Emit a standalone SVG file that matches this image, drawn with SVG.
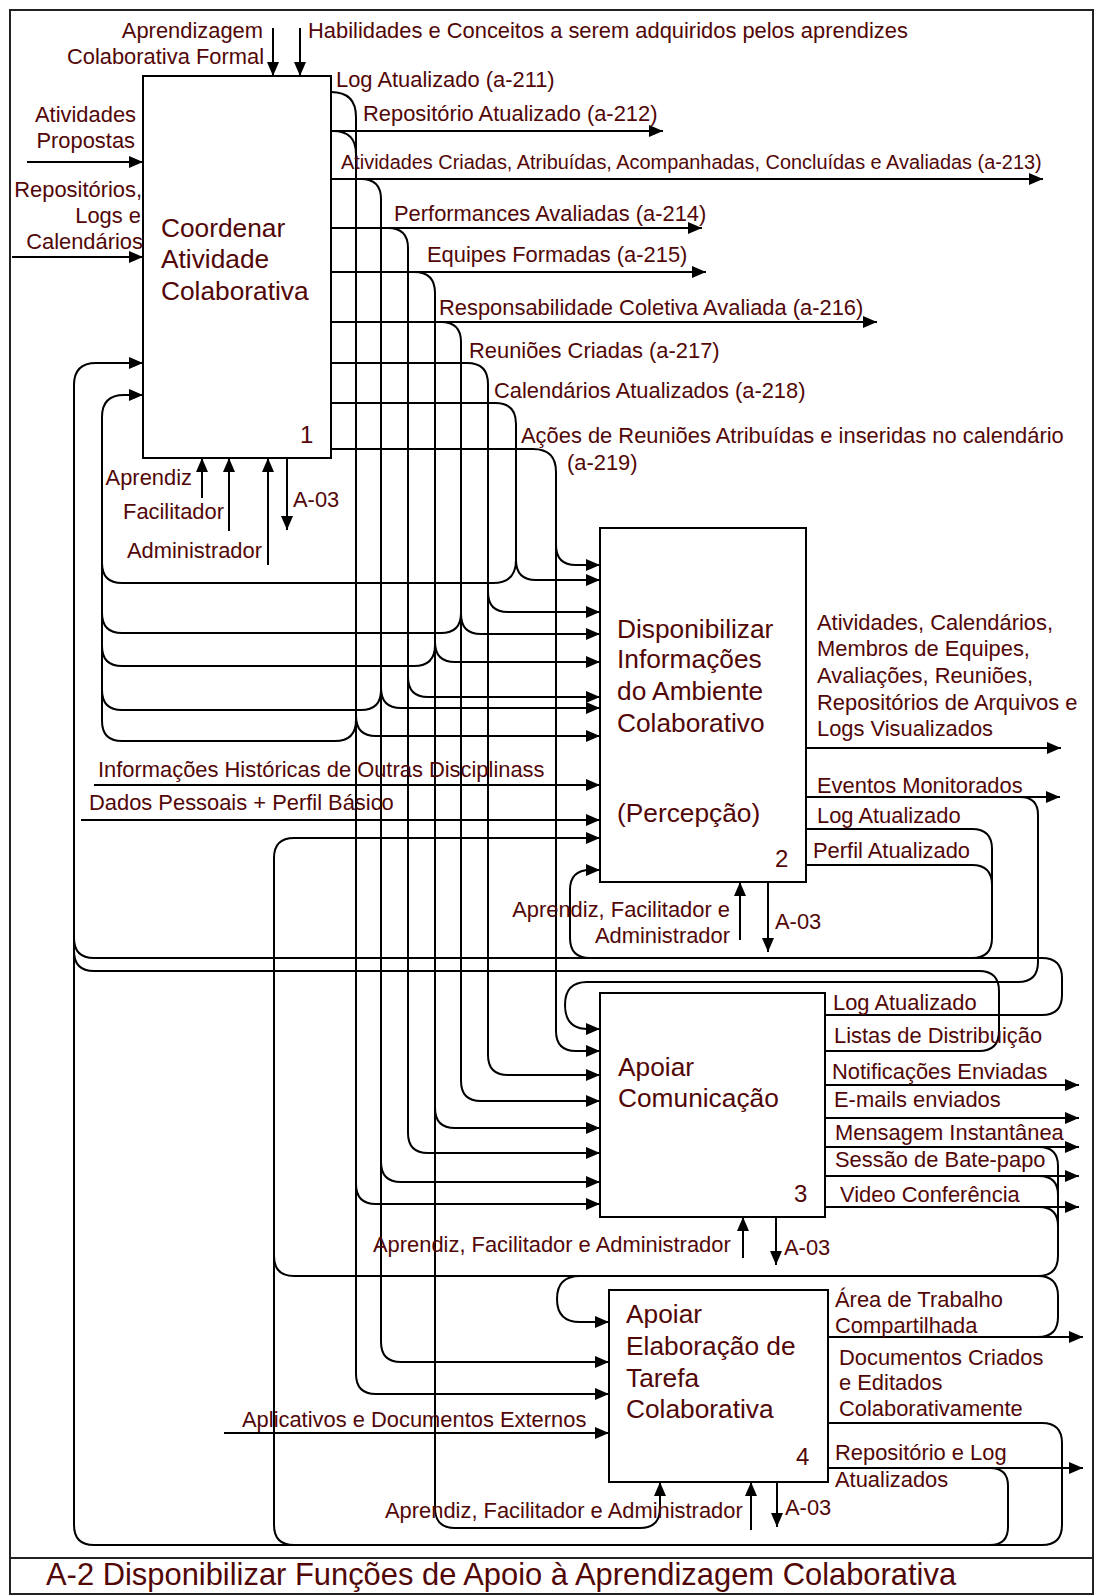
<svg xmlns="http://www.w3.org/2000/svg" width="1096" height="1596" viewBox="0 0 1096 1596">
<defs>
<marker id="ah" viewBox="0 0 14 12" refX="14" refY="6" markerWidth="14" markerHeight="12" markerUnits="userSpaceOnUse" orient="auto"><path d="M0,0 L14,6 L0,12 z" fill="#000"/></marker>
<style>
.frame{fill:none;stroke:#222;stroke-width:2}
.box{fill:#fff;stroke:#000;stroke-width:2}
.ln{fill:none;stroke:#000;stroke-width:2}
.ar{marker-end:url(#ah)}
text{font-family:"Liberation Sans",Arial,Helvetica,sans-serif;fill:#520707;font-size:21.9px}
.tt{font-size:26.3px}
.num{font-size:24px}
.title{font-size:30.9px}
.sm{font-size:19.9px}
.e{text-anchor:end}
</style>
</defs>
<rect class="frame" x="10" y="10" width="1083" height="1584"/>
<line class="frame" x1="10" y1="1558" x2="1093" y2="1558"/>
<text class="title" x="46" y="1585">A-2 Disponibilizar Funções de Apoio à Aprendizagem Colaborativa</text>

<g id="connectors">
<path class="ln ar" d="M273,28 V76"/>
<path class="ln ar" d="M300,28 V76"/>
<path class="ln ar" d="M27,162 H143"/>
<path class="ln ar" d="M12,257 H143"/>
<path class="ln ar" d="M102,721 V417 Q102,395 124,395 H143"/>
<path class="ln ar" d="M74,1525 V385 Q74,363 96,363 H143"/>
<path class="ln ar" d="M202,498 V458"/>
<path class="ln ar" d="M229,531 V458"/>
<path class="ln ar" d="M268,565 V458"/>
<path class="ln ar" d="M287,458 V530"/>

<path class="ln ar" d="M331,92 Q356,92 356,117 V716 Q356,736 376,736 H600"/>
<path class="ln" d="M333,131 Q356,131 356,154"/>
<path class="ln ar" d="M331,131 H663"/>
<path class="ln ar" d="M356,716 V1184 Q356,1204 376,1204 H600"/>
<path class="ln ar" d="M356,1184 V1374 Q356,1394 376,1394 H609"/>
<path class="ln" d="M356,720 Q356,741 335,741 H122 Q102,741 102,721"/>

<path class="ln ar" d="M331,179 H1043"/>
<path class="ln ar" d="M361,179 Q381,179 381,199 V688 Q381,708 401,708 H600"/>
<path class="ln ar" d="M381,688 V1162 Q381,1182 401,1182 H600"/>
<path class="ln ar" d="M381,1162 V1342 Q381,1362 401,1362 H609"/>
<path class="ln" d="M381,690 Q381,710 361,710 H122 Q102,710 102,690"/>

<path class="ln ar" d="M331,228 H702"/>
<path class="ln ar" d="M388,228 Q408,228 408,248 V677 Q408,697 428,697 H600"/>
<path class="ln ar" d="M408,677 V1133 Q408,1153 428,1153 H600"/>

<path class="ln ar" d="M331,272 H706"/>
<path class="ln ar" d="M414,272 Q435,272 435,293 V642 Q435,662 455,662 H600"/>
<path class="ln" d="M435,645 Q435,666 414,666 H122 Q102,666 102,646"/>
<path class="ln ar" d="M435,642 V1108 Q435,1128 455,1128 H600"/>
<path class="ln ar" d="M435,1108 V1508 Q435,1528 455,1528 H640 Q660,1528 660,1508 V1482"/>

<path class="ln ar" d="M331,322 H877"/>
<path class="ln ar" d="M441,322 Q461,322 461,342 V614 Q461,634 481,634 H600"/>
<path class="ln" d="M461,613 Q461,633 441,633 H122 Q102,633 102,613"/>
<path class="ln ar" d="M461,614 V1081 Q461,1101 481,1101 H600"/>

<path class="ln ar" d="M331,363 H467 Q488,363 488,384 V592 Q488,612 508,612 H600"/>
<path class="ln ar" d="M488,592 V1055 Q488,1075 508,1075 H600"/>

<path class="ln ar" d="M331,403 H495 Q516,403 516,424 V560 Q516,580 536,580 H600"/>
<path class="ln" d="M516,560 Q516,583 493,583 H122 Q102,583 102,563"/>

<path class="ln ar" d="M331,449 H533 Q556,449 556,472 V545 Q556,565 576,565 H600"/>
<path class="ln ar" d="M556,545 V1031 Q556,1051 576,1051 H600"/>

<path class="ln ar" d="M94,785 H600"/>
<path class="ln ar" d="M81,820 H600"/>
<path class="ln ar" d="M274,1525 V858 Q274,838 294,838 H600"/>

<path class="ln ar" d="M806,748 H1061"/>
<path class="ln ar" d="M806,797 H1060"/>
<path class="ln ar" d="M1020,797 Q1038,797 1038,815 V962 Q1038,982 1018,982 H587 Q565,982 565,1005 Q565,1029 588,1029 H600"/>
<path class="ln" d="M806,829 H972 Q992,829 992,849 V938 Q992,958 972,958"/>
<path class="ln" d="M806,865 H972 Q992,865 992,885"/>
<path class="ln ar" d="M590,958 Q570,958 570,938 V890 Q570,870 590,870 H600"/>
<path class="ln ar" d="M740,940 V882"/>
<path class="ln ar" d="M768,882 V952"/>

<path class="ln" d="M825,1015 H1042 Q1062,1015 1062,995 V978 Q1062,958 1042,958 H94 Q74,958 74,938"/>
<path class="ln" d="M825,1051 H979 Q999,1051 999,1031 V991 Q999,971 979,971 H94 Q74,971 74,951"/>
<path class="ln ar" d="M825,1085 H1079"/>
<path class="ln ar" d="M822,1118 H1079"/>
<path class="ln ar" d="M825,1147 H1079"/>
<path class="ln ar" d="M825,1176 H1079"/>
<path class="ln ar" d="M825,1207 H1079"/>
<path class="ln" d="M1039,1147 Q1058,1147 1058,1166 V1256 Q1058,1276 1038,1276 H294 Q274,1276 274,1256"/>
<path class="ln" d="M1039,1176 Q1058,1176 1058,1195"/>
<path class="ln" d="M1039,1207 Q1058,1207 1058,1226"/>
<path class="ln ar" d="M743,1258 V1217"/>
<path class="ln ar" d="M776,1217 V1265"/>
<path class="ln ar" d="M580,1276 Q557,1276 557,1299 Q557,1322 580,1322 H609"/>

<path class="ln ar" d="M224,1433 H609"/>
<path class="ln ar" d="M828,1337 H1083"/>
<path class="ln" d="M1038,1337 Q1058,1337 1058,1317 V1296 Q1058,1276 1038,1276"/>
<path class="ln" d="M828,1423 H1042 Q1062,1423 1062,1443 V1525 Q1062,1545 1042,1545 H94 Q74,1545 74,1525"/>
<path class="ln" d="M274,1525 Q274,1545 294,1545"/>
<path class="ln ar" d="M828,1468 H1083"/>
<path class="ln" d="M990,1468 Q1008,1468 1008,1486 V1527 Q1008,1545 990,1545"/>
<path class="ln ar" d="M751,1530 V1482"/>
<path class="ln ar" d="M777,1482 V1527"/>
</g>

<g id="node-a1">
<rect class="box" x="143" y="76" width="188" height="382"/>
<text class="tt" x="161" y="237">Coordenar</text>
<text class="tt" x="161" y="268">Atividade</text>
<text class="tt" x="161" y="300">Colaborativa</text>
<text class="num" x="300" y="443">1</text>
</g>
<g id="node-a2">
<rect class="box" x="600" y="528" width="206" height="354"/>
<text class="tt" x="617" y="638">Disponibilizar</text>
<text class="tt" x="617" y="668">Informações</text>
<text class="tt" x="617" y="700">do Ambiente</text>
<text class="tt" x="617" y="732">Colaborativo</text>
<text class="tt" x="617" y="822">(Percepção)</text>
<text class="num" x="775" y="867">2</text>
</g>
<g id="node-a3">
<rect class="box" x="600" y="993" width="225" height="224"/>
<text class="tt" x="618" y="1076">Apoiar</text>
<text class="tt" x="618" y="1107">Comunicação</text>
<text class="num" x="794" y="1202">3</text>
</g>
<g id="node-a4">
<rect class="box" x="609" y="1290" width="219" height="192"/>
<text class="tt" x="626" y="1323">Apoiar</text>
<text class="tt" x="626" y="1355">Elaboração de</text>
<text class="tt" x="626" y="1387">Tarefa</text>
<text class="tt" x="626" y="1418">Colaborativa</text>
<text class="num" x="796" y="1465">4</text>
</g>

<g id="labels">
<text class="e" x="263" y="38">Aprendizagem</text>
<text class="e" x="264" y="64">Colaborativa Formal</text>
<text x="308" y="38">Habilidades e Conceitos a serem adquiridos pelos aprendizes</text>
<text class="e" x="136" y="122">Atividades</text>
<text class="e" x="135" y="148">Propostas</text>
<text class="e" x="142" y="197">Repositórios,</text>
<text class="e" x="141" y="223">Logs e</text>
<text class="e" x="143" y="249">Calendários</text>
<text class="e" x="192" y="485">Aprendiz</text>
<text class="e" x="224" y="519">Facilitador</text>
<text class="e" x="262" y="558">Administrador</text>
<text x="293" y="507">A-03</text>

<text x="336" y="87">Log Atualizado (a-211)</text>
<text x="363" y="121">Repositório Atualizado (a-212)</text>
<text class="sm" x="341" y="169">Atividades Criadas, Atribuídas, Acompanhadas, Concluídas e Avaliadas (a-213)</text>
<text x="394" y="221">Performances Avaliadas (a-214)</text>
<text x="427" y="262">Equipes Formadas (a-215)</text>
<text x="439" y="315">Responsabilidade Coletiva Avaliada (a-216)</text>
<text x="469" y="358">Reuniões Criadas (a-217)</text>
<text x="494" y="398">Calendários Atualizados (a-218)</text>
<text x="521" y="443">Ações de Reuniões Atribuídas e inseridas no calendário</text>
<text x="567" y="470">(a-219)</text>

<text x="98" y="777">Informações Históricas de Outras Disciplinass</text>
<text x="89" y="810">Dados Pessoais + Perfil Básico</text>

<text x="817" y="630">Atividades, Calendários,</text>
<text x="817" y="656">Membros de Equipes,</text>
<text x="817" y="683">Avaliações, Reuniões,</text>
<text x="817" y="710">Repositórios de Arquivos e</text>
<text x="817" y="736">Logs Visualizados</text>
<text x="817" y="793">Eventos Monitorados</text>
<text x="817" y="823">Log Atualizado</text>
<text x="813" y="858">Perfil Atualizado</text>
<text class="e" x="730" y="917">Aprendiz, Facilitador e</text>
<text class="e" x="730" y="943">Administrador</text>
<text x="775" y="929">A-03</text>

<text x="833" y="1010">Log Atualizado</text>
<text x="834" y="1043">Listas de Distribuição</text>
<text x="832" y="1079">Notificações Enviadas</text>
<text x="834" y="1107">E-mails enviados</text>
<text x="835" y="1140">Mensagem Instantânea</text>
<text x="835" y="1167">Sessão de Bate-papo</text>
<text x="840" y="1202">Video Conferência</text>
<text x="373" y="1252">Aprendiz, Facilitador e Administrador</text>
<text x="784" y="1255">A-03</text>

<text x="835" y="1307">Área de Trabalho</text>
<text x="835" y="1333">Compartilhada</text>
<text x="839" y="1365">Documentos Criados</text>
<text x="839" y="1390">e Editados</text>
<text x="839" y="1416">Colaborativamente</text>
<text x="835" y="1460">Repositório e Log</text>
<text x="835" y="1487">Atualizados</text>
<text x="242" y="1427">Aplicativos e Documentos Externos</text>
<text x="385" y="1518">Aprendiz, Facilitador e Administrador</text>
<text x="785" y="1515">A-03</text>
</g>
</svg>
